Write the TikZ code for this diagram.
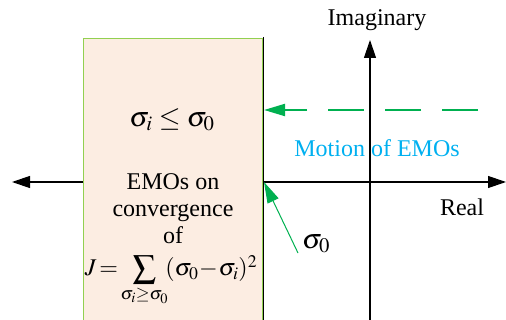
\documentclass[tikz,border=0pt]{standalone}
\usepackage{mathptmx}
\usepackage{fontspec}
\setmainfont{Liberation Serif}
\usetikzlibrary{arrows.meta}
\definecolor{boxfill}{HTML}{FCEDE2}
\definecolor{boxedge}{HTML}{92D050}
\definecolor{arrgreen}{HTML}{00B050}
\definecolor{labcyan}{HTML}{00B0F0}
\newcommand{\bigsumsym}{\mathop{\vcenter{\hbox{\fontsize{23}{23}\selectfont$\displaystyle\sum$}}}}
\begin{document}
\begin{tikzpicture}[x=1pt,y=-1pt,
  axis/.style={line width=1.2pt,-{Triangle[length=18pt,width=12pt]}},
  garrow/.style={draw=arrgreen,-{Triangle[length=21pt,width=12pt]}},
  lbl/.style={font=\fontsize{24}{26}\selectfont,inner sep=0pt}]
\useasboundingbox (0,0) rectangle (506,320);
% box
\fill[boxfill] (83,39) rectangle (263,322);
\draw[boxedge,line width=1pt] (263,39) -- (83,39) -- (83,322);
\draw[black,line width=1.4pt] (263.5,37) -- (263.5,322);
\draw[boxedge,line width=0.8pt] (262.5,39) -- (262.5,322);
% coordinates
\coordinate (bl) at (83,182);
\coordinate (br) at (263,182);
\coordinate (leftend) at (12,182);
\coordinate (rightend) at (506,182);
\coordinate (vbot) at (370,322);
\coordinate (vtop) at (370,40);
\coordinate (dashstart) at (478,110);
\coordinate (dashend) at (264,110);
\coordinate (sigstart) at (298,253);
\coordinate (sigend) at (264,182);
% axes
\draw[axis] (bl) -- (leftend);
\draw[axis] (br) -- (rightend);
\draw[axis] (vbot) -- (vtop);
% labels
\node[lbl] (imag) at (377,20) {Imaginary};
\node[lbl] (real) at (462,207) {Real};
\node[lbl,text=labcyan] (motion) at (377,148) {Motion of EMOs};
\node[inner sep=0pt] (sig0) at (316,244) {\fontsize{28}{30}\selectfont$\sigma_0$};
% green arrows
\draw[garrow,line width=2pt,dash pattern=on 36pt off 21pt] (dashstart) -- (dashend);
\draw[garrow,line width=1pt] (sigstart) -- (sigend);
% box text
\node[inner sep=0pt] (cond) at (172,120) {\fontsize{28}{30}\selectfont$\sigma_i \le \sigma_0$};
\node[inner sep=0pt,align=center,font=\fontsize{24}{27}\selectfont] (emo) at (173,209) {EMOs on\\convergence\\of};
\node[inner sep=0pt,anchor=base] (formula) at (171,276) {\fontsize{24}{26}\selectfont$J\!=\!\bigsumsym\limits_{\sigma_i\ge\sigma_0}\!(\sigma_0\!-\!\sigma_i)^2$};
\end{tikzpicture}
\end{document}
